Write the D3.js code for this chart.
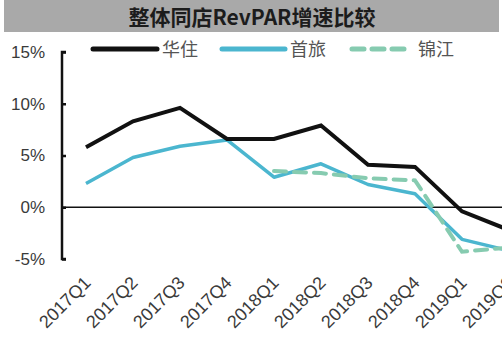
<!DOCTYPE html>
<html><head><meta charset="utf-8">
<script src="https://cdn.jsdelivr.net/npm/d3@7/dist/d3.min.js"></script>
<style>body{margin:0;background:#fff;}svg{display:block;}</style>
</head><body><svg id="c" width="502" height="357"></svg>
<script>
const categories = ["2017Q1","2017Q2","2017Q3","2017Q4","2018Q1","2018Q2","2018Q3","2018Q4","2019Q1","2019Q2"];
const huazhu  = [5.8, 8.3, 9.6, 6.6, 6.6, 7.9, 4.1, 3.9, -0.4, -2.2];
const shoulv  = [2.3, 4.8, 5.9, 6.5, 2.9, 4.2, 2.2, 1.3, -3.1, -4.2];
const jinjiang = [null, null, null, null, 3.5, 3.3, 2.8, 2.6, -4.3, -3.9];
const yTicks = [-5, 0, 5, 10, 15];
const seriesNames = ["华住", "首旅", "锦江"];
const title = "整体同店RevPAR增速比较";

const svg = d3.select("#c");
const font = "'Liberation Sans', Arial, sans-serif";
const cjk = "'Noto Sans CJK SC', sans-serif";

// title bar
svg.append("rect").attr("x", 4).attr("y", 0).attr("width", 495).attr("height", 32).attr("fill", "#a9a9a9");
svg.append("text").attr("x", 252).attr("y", 25).attr("text-anchor", "middle")
  .attr("font-family", cjk).attr("font-weight", "bold").attr("font-size", 21).attr("fill", "#1c1c1c").text(title);

const x = d3.scalePoint().domain(categories).range([86, 509]);
const y = d3.scaleLinear().domain([-5, 15]).range([259, 52]);

// y axis
const yAxis = d3.axisLeft(y).tickValues(yTicks).tickSize(-4).tickPadding(17).tickFormat(d => d + "%");
const ga = svg.append("g").attr("transform", "translate(62,0)").call(yAxis);
ga.select(".domain").attr("stroke", "#111").attr("stroke-width", 2.5).attr("d", "M4,52H0V259H4");
ga.selectAll(".tick line").attr("stroke", "#111").attr("stroke-width", 2.5);
ga.selectAll(".tick text").attr("font-family", font).attr("font-size", 17).attr("fill", "#3a3a3a");

// zero line
svg.append("line").attr("x1", 62).attr("x2", 502).attr("y1", y(0)).attr("y2", y(0)).attr("stroke", "#111").attr("stroke-width", 1.5);

// x labels
svg.append("g").selectAll("text").data(categories).join("text")
  .attr("transform", d => `translate(${x(d) - 3},${275}) rotate(-45)`)
  .attr("text-anchor", "end").attr("dy", "0.7em")
  .attr("font-family", font).attr("font-size", 18).attr("fill", "#3a3a3a").text(d => d);

const line = d3.line().defined(d => d[1] !== null).x(d => x(d[0])).y(d => y(d[1]));
const zip = arr => categories.map((c, i) => [c, arr[i]]);

svg.append("path").datum(zip(shoulv)).attr("d", line).attr("fill", "none").attr("stroke", "#4bb6cf").attr("stroke-width", 3.5).attr("stroke-linejoin", "round");
svg.append("path").datum(zip(jinjiang)).attr("d", line).attr("fill", "none").attr("stroke", "#86cbb0").attr("stroke-width", 4).attr("stroke-dasharray", "12,8").attr("stroke-linecap", "round");
svg.append("path").datum(zip(huazhu)).attr("d", line).attr("fill", "none").attr("stroke", "#111").attr("stroke-width", 4).attr("stroke-linejoin", "miter");

// legend
const leg = [
  {name: seriesNames[0], x1: 93, x2: 157, tx: 162, color: "#111", dash: null},
  {name: seriesNames[1], x1: 222, x2: 285, tx: 290, color: "#4bb6cf", dash: null},
  {name: seriesNames[2], x1: 352, x2: 411, tx: 418, color: "#86cbb0", dash: "12,8"}
];
const lg = svg.append("g").selectAll("g").data(leg).join("g");
lg.append("line").attr("x1", d => d.x1).attr("x2", d => d.x2).attr("y1", 49).attr("y2", 49)
  .attr("stroke", d => d.color).attr("stroke-width", 5).attr("stroke-linecap", "round")
  .attr("stroke-dasharray", d => d.dash);
lg.append("text").attr("x", d => d.tx).attr("y", 56).attr("font-family", cjk).attr("font-size", 18).attr("fill", "#555").text(d => d.name);
</script></body></html>
